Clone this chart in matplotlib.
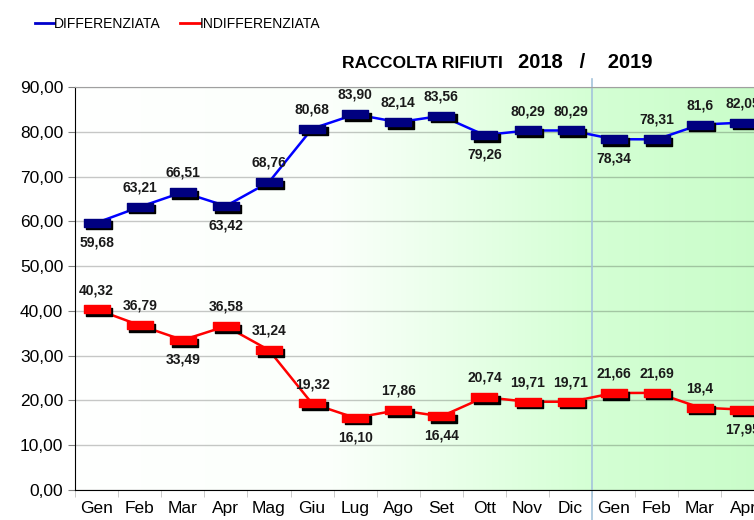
import matplotlib.pyplot as plt
import matplotlib.transforms as mtransforms
from matplotlib.path import Path
from matplotlib.lines import Line2D
from matplotlib.colors import LinearSegmentedColormap
import numpy as np

plt.rcParams['font.family'] = ['Liberation Sans', 'DejaVu Sans']

# dati
mesi = ["Gen", "Feb", "Mar", "Apr", "Mag", "Giu", "Lug", "Ago", "Set", "Ott", "Nov", "Dic",
        "Gen", "Feb", "Mar", "Apr"]
differenziata = [59.68, 63.21, 66.51, 63.42, 68.76, 80.68, 83.90, 82.14, 83.56, 79.26, 80.29, 80.29,
                 78.34, 78.31, 81.6, 82.05]
indifferenziata = [40.32, 36.79, 33.49, 36.58, 31.24, 19.32, 16.10, 17.86, 16.44, 20.74, 19.71, 19.71,
                   21.66, 21.69, 18.4, 17.95]
etichette_diff = ["59,68", "63,21", "66,51", "63,42", "68,76", "80,68", "83,90", "82,14", "83,56",
                  "79,26", "80,29", "80,29", "78,34", "78,31", "81,6", "82,05"]
etichette_indiff = ["40,32", "36,79", "33,49", "36,58", "31,24", "19,32", "16,10", "17,86", "16,44",
                    "20,74", "19,71", "19,71", "21,66", "21,69", "18,4", "17,95"]
# posizione etichetta: 1 sopra, -1 sotto
pos_diff = [-1, 1, 1, -1, 1, 1, 1, 1, 1, -1, 1, 1, -1, 1, 1, 1]
pos_indiff = [1, 1, -1, 1, 1, 1, -1, 1, -1, 1, 1, 1, 1, 1, 1, -1]

W, H = 754, 520
fig = plt.figure(figsize=(W / 100, H / 100), dpi=100)
passo = 43.1
ax = fig.add_axes([75 / W, 30 / H, 17 * passo / W, 403 / H])

x = np.arange(len(mesi))
ax.set_xlim(-0.5, 16.5)
ax.set_ylim(0, 90)

# sfondo sfumato: bianco -> verde chiaro fino a Dic, poi verde
grad = np.linspace(0, 1, 300).reshape(1, -1)
cmap1 = LinearSegmentedColormap.from_list("sf1", ["white", "#fbfffb", "#d4ffd4"])
ax.imshow(grad, extent=[-0.5, 11.5, 0, 90], aspect="auto", cmap=cmap1, zorder=0)
cmap2 = LinearSegmentedColormap.from_list("sf2", ["#d4ffd4", "#c6fcc6"])
ax.imshow(grad, extent=[11.5, 16.5, 0, 90], aspect="auto", cmap=cmap2, zorder=0)

ax.set_yticks(np.arange(0, 91, 10))
ax.set_yticklabels([f"{v:.2f}".replace(".", ",") for v in np.arange(0, 91, 10)], fontsize=12.5)
ax.yaxis.grid(True, color="black", alpha=0.22, lw=1)
ax.set_axisbelow(True)
ax.set_xticks(x)
ax.set_xticklabels(mesi, fontsize=12.5)
ax.tick_params(axis="x", length=0, pad=8)
ax.set_xticks(np.arange(-0.5, 17, 1), minor=True)
ax.tick_params(axis="x", which="minor", length=5, color="#c0c0c0")
ax.tick_params(axis="y", length=5, color="#808080")
ax.spines["right"].set_visible(False)
ax.spines["top"].set_color("#a0a0a0")

# marker rettangolare
rett = Path([(-1.6, -0.5), (1.6, -0.5), (1.6, 0.5), (-1.6, 0.5), (-1.6, -0.5)],
            [Path.MOVETO, Path.LINETO, Path.LINETO, Path.LINETO, Path.CLOSEPOLY])
ombra = mtransforms.offset_copy(ax.transData, fig=fig, x=2.5, y=-2.5, units="dots")

for vals, linea, riemp in [(differenziata, "#0000ff", "#000080"), (indifferenziata, "#ff0000", "#ff0000")]:
    ax.plot(x, vals, color=linea, lw=1.8, zorder=3)
    ax.plot(x, vals, ls="none", marker=rett, ms=19, mfc="black", mec="black", transform=ombra, zorder=4)
    ax.plot(x, vals, ls="none", marker=rett, ms=19, mfc=riemp, mec=riemp, zorder=5)

for serie, etich, pos in [(differenziata, etichette_diff, pos_diff), (indifferenziata, etichette_indiff, pos_indiff)]:
    for xi, v, t, p in zip(x, serie, etich, pos):
        ax.annotate(t, (xi, v), xytext=(0, 14 * p), textcoords="offset points",
                    ha="center", va="center", fontsize=10, fontweight="bold", color="#1a1a1a", zorder=6)

# linea verticale di separazione anni
ax.axvline(11.5, ymin=-0.1, ymax=1.02, color="#a4c4dc", lw=1.2, clip_on=False, zorder=2)

# titolo
fig.text(342 / W, 1 - 63 / H, "RACCOLTA RIFIUTI", fontsize=12.6, fontweight="bold", va="center")
fig.text(518 / W, 1 - 63 / H, "2018   /    2019", fontsize=14.5, fontweight="bold", va="center")

# legenda
maniglie = [Line2D([], [], color="#0000cc", lw=2), Line2D([], [], color="#ff0000", lw=2)]
fig.legend(maniglie, ["DIFFERENZIATA", "INDIFFERENZIATA"], loc="center left",
           bbox_to_anchor=(22 / W, 1 - 24 / H), ncol=2, frameon=False, fontsize=10,
           handlelength=1.4, handletextpad=0.0, columnspacing=1.4)

fig.savefig("out.png", dpi=100)
